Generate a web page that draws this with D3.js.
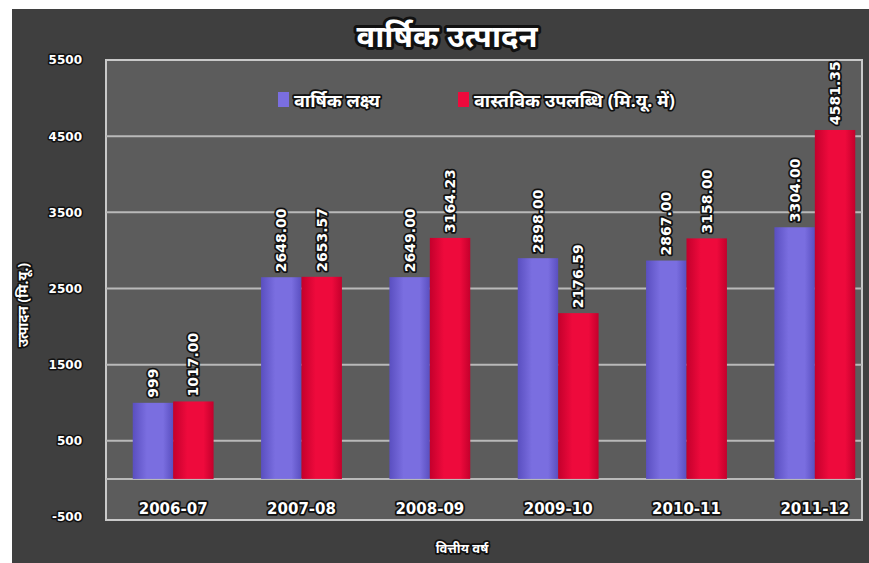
<!DOCTYPE html>
<html>
<head>
<meta charset="utf-8">
<script src="https://cdn.jsdelivr.net/npm/d3@7/dist/d3.min.js"></script>
<style>
  html, body { margin: 0; padding: 0; background: #ffffff; }
  svg { display: block; }
  .halo { paint-order: stroke; stroke: #111; stroke-linejoin: round; fill: #fff; font-weight: bold; }
</style>
</head>
<body>
<svg id="chart" width="869" height="563"></svg>
<script>
// Annual production by financial year
const years = ["2006-07", "2007-08", "2008-09", "2009-10", "2010-11", "2011-12"];
const targetValues = [999, 2648.00, 2649.00, 2898.00, 2867.00, 3304.00];
const actualValues = [1017.00, 2653.57, 3164.23, 2176.59, 3158.00, 4581.35];
const targetLabels = ["999", "2648.00", "2649.00", "2898.00", "2867.00", "3304.00"];
const actualLabels = ["1017.00", "2653.57", "3164.23", "2176.59", "3158.00", "4581.35"];
const seriesNames = ["वार्षिक लक्ष्य", "वास्तविक उपलब्धि (मि.यू. में)"];
const yTicks = [-500, 500, 1500, 2500, 3500, 4500, 5500];
const gridValues = [0, 500, 1500, 2500, 3500, 4500];

const fontFam = "'Noto Sans', 'Noto Sans Devanagari', 'Lohit Devanagari', 'DejaVu Sans', sans-serif";
const numFam = "'DejaVu Sans', 'Noto Sans', sans-serif";
const svg = d3.select("#chart").style("font-family", fontFam);

// Outer chart background
svg.append("rect").attr("x", 12).attr("y", 9).attr("width", 857).attr("height", 554).attr("fill", "#3f3f3f");

const plot = { left: 106, right: 862, top: 60, bottom: 520 };

const y = d3.scaleLinear().domain([-500, 5500]).range([517, 60]);
const x0 = d3.scaleBand().domain(years).range([109, 879]).paddingInner(0.37).paddingOuter(0.185);
const series = [
  { name: seriesNames[0], values: targetValues, labels: targetLabels, color: "#7a6ee0", dark: "#5a4fc0" },
  { name: seriesNames[1], values: actualValues, labels: actualLabels, color: "#ee0a3c", dark: "#c4002c" }
];
const x1 = d3.scaleBand().domain([0, 1]).range([0, x0.bandwidth()]);

// Plot area
svg.append("rect").attr("x", plot.left).attr("y", plot.top)
  .attr("width", plot.right - plot.left).attr("height", plot.bottom - plot.top)
  .attr("fill", "#5c5c5c").attr("stroke", "#c9c9c9").attr("stroke-width", 2);

// Gridlines
svg.append("g").selectAll("line").data(gridValues).join("line")
  .attr("x1", plot.left).attr("x2", plot.right)
  .attr("y1", d => y(d)).attr("y2", d => y(d))
  .attr("stroke", "#b9b9b9").attr("stroke-width", 2);

// Bar gradients
const defs = svg.append("defs");
series.forEach((s, i) => {
  const g = defs.append("linearGradient").attr("id", "grad" + i).attr("x1", 0).attr("x2", 1).attr("y1", 0).attr("y2", 0);
  g.append("stop").attr("offset", "0%").attr("stop-color", s.dark);
  g.append("stop").attr("offset", "35%").attr("stop-color", s.color);
  g.append("stop").attr("offset", "75%").attr("stop-color", s.color);
  g.append("stop").attr("offset", "100%").attr("stop-color", s.dark);
});

// Bars
series.forEach((s, i) => {
  svg.append("g").selectAll("rect").data(years).join("rect")
    .attr("x", d => x0(d) + x1(i))
    .attr("width", x1.bandwidth())
    .attr("y", (d, j) => y(Math.max(0, s.values[j])))
    .attr("height", (d, j) => Math.abs(y(s.values[j]) - y(0)))
    .attr("fill", "url(#grad" + i + ")");
});

// Value labels (rotated)
series.forEach((s, i) => {
  svg.append("g").selectAll("text").data(years).join("text")
    .attr("class", "halo")
    .attr("font-family", numFam)
    .attr("transform", (d, j) => `translate(${x0(d) + x1(i) + x1.bandwidth() / 2 + 5},${y(s.values[j]) - 5}) rotate(-90)`)
    .attr("font-size", 14).attr("stroke-width", 3.5)
    .text((d, j) => s.labels[j]);
});

// Y axis tick labels
const yAxis = d3.axisLeft(y).tickValues(yTicks).tickSize(0).tickPadding(0).tickFormat(d => String(d));
const ya = svg.append("g").attr("transform", "translate(82,0)").call(yAxis);
ya.select(".domain").remove();
ya.selectAll("text").attr("class", "halo").attr("font-size", 12).attr("stroke-width", 3)
  .attr("font-family", numFam);

// X axis category labels
const xAxis = d3.axisBottom(x0).tickSize(0).tickPadding(0);
const xa = svg.append("g").attr("transform", "translate(0,503)").call(xAxis);
xa.select(".domain").remove();
xa.selectAll("text").attr("class", "halo").attr("font-size", 15).attr("stroke-width", 3.5)
  .attr("font-family", numFam);

// Legend
const legend = [{ x: 278 }, { x: 458 }];
legend.forEach((l, i) => {
  svg.append("rect").attr("x", l.x).attr("y", 92).attr("width", 11).attr("height", 15).attr("fill", series[i].color);
  svg.append("text").attr("class", "halo").attr("x", l.x + 16).attr("y", 107)
    .attr("font-size", 18).attr("stroke-width", 3.5).text(series[i].name);
});

// Title
svg.append("text").attr("class", "halo").attr("x", 447).attr("y", 47)
  .attr("text-anchor", "middle").attr("font-size", 31).attr("stroke-width", 6)
  .text("वार्षिक उत्पादन");

// Axis titles
svg.append("text").attr("class", "halo")
  .attr("transform", "translate(28,305) rotate(-90)")
  .attr("text-anchor", "middle").attr("font-size", 14).attr("stroke-width", 3.5)
  .text("उत्पादन (मि.यू.)");
svg.append("text").attr("class", "halo").attr("x", 462).attr("y", 553)
  .attr("text-anchor", "middle").attr("font-size", 13).attr("stroke-width", 3.5)
  .text("वित्तीय वर्ष");
</script>
</body>
</html>
